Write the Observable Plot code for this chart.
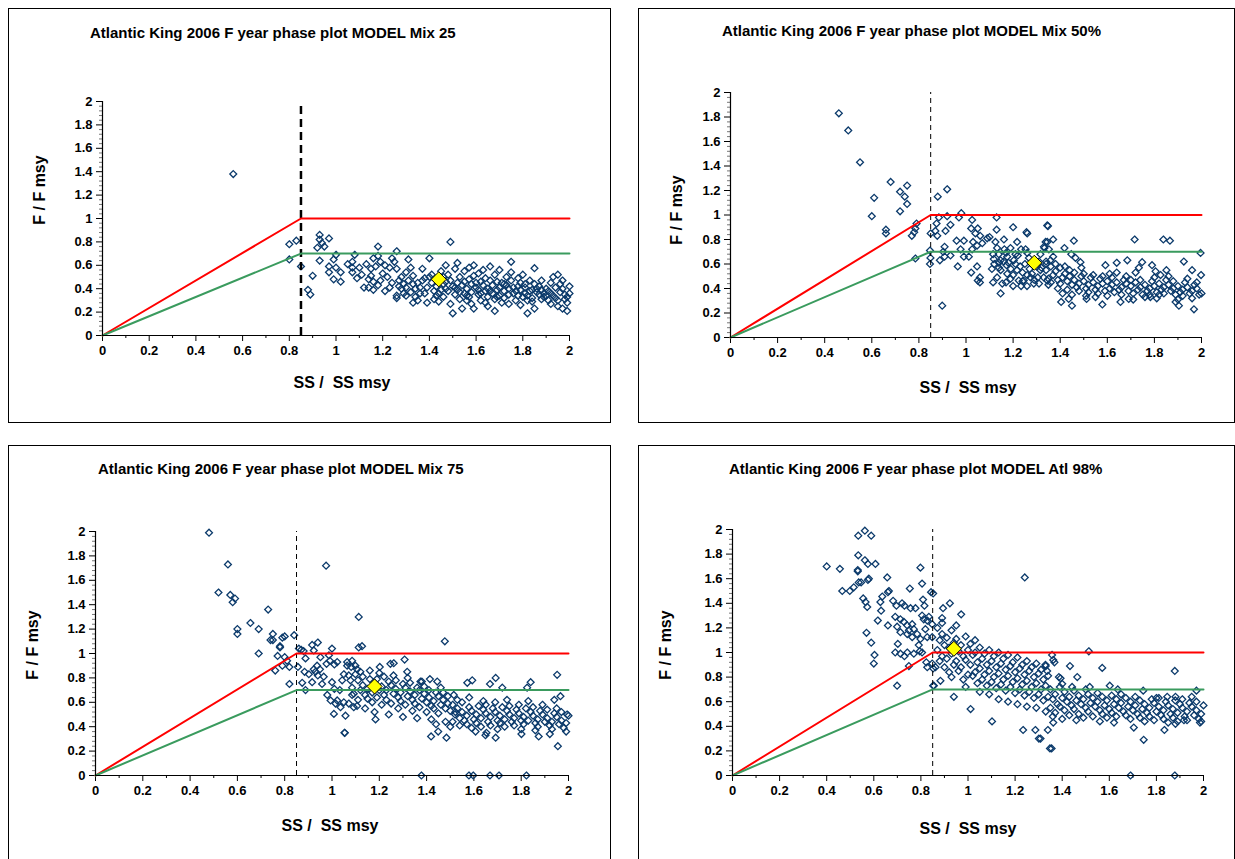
<!DOCTYPE html>
<html><head><meta charset="utf-8">
<script src="https://cdn.jsdelivr.net/npm/d3@7"></script>
<script src="https://cdn.jsdelivr.net/npm/@observablehq/plot@0.6"></script>
<style>
body{margin:0;background:#fff;font-family:"Liberation Sans",Arial,sans-serif;}
#page{position:relative;width:1235px;height:859px;overflow:hidden;background:#fff;}
.box{position:absolute;border:1px solid #000;box-sizing:border-box;background:#fff;}
.box svg{position:absolute;left:0;top:0;}
.title{position:absolute;font-weight:bold;font-size:15px;line-height:18px;white-space:nowrap;color:#000;}
.ylab{position:absolute;font-weight:bold;font-size:16px;white-space:pre;transform:translate(-50%,-50%) rotate(-90deg);color:#000;}
.xlab{position:absolute;font-weight:bold;font-size:16px;white-space:pre;transform:translate(-50%,-50%);color:#000;}
</style></head>
<body><div id="page"></div>
<script>
// ---------- data ----------
const titles = [
  "Atlantic King 2006 F year phase plot MODEL Mix 25",
  "Atlantic King 2006 F year phase plot MODEL Mix 50%",
  "Atlantic King 2006 F year phase plot MODEL Mix 75",
  "Atlantic King 2006 F year phase plot MODEL Atl 98%"
];
const xAxisLabel = "SS /  SS msy";
const yAxisLabel = "F / F msy";
const xTicks = [0,0.2,0.4,0.6,0.8,1,1.2,1.4,1.6,1.8,2];
const yTicks = [0,0.2,0.4,0.6,0.8,1,1.2,1.4,1.6,1.8,2];
const xMinor = [0.1,0.3,0.5,0.7,0.9,1.1,1.3,1.5,1.7,1.9];
const yMinor = [0.04,0.08,0.12,0.16,0.24,0.28,0.32,0.36,0.44,0.48,0.52,0.56,0.64,0.68,0.72,0.76,0.84,0.88,0.92,0.96,1.04,1.08,1.12,1.16,1.24,1.28,1.32,1.36,1.44,1.48,1.52,1.56,1.64,1.68,1.72,1.76,1.84,1.88,1.92,1.96];
const ssMsy = 0.85;
const limitLine = [[0,0],[0.85,1],[2,1]];
const targetLine = [[0,0],[0.85,0.7],[2,0.7]];
const current = [[1.44,0.48],[1.29,0.61],[1.18,0.73],[0.94,1.03]];

const mix25 = [
[0.56,1.38],[0.80,0.78],[0.83,0.81],[0.80,0.65],[0.85,0.59],[0.90,0.51],[0.88,0.39],[0.89,0.35],
[0.93,0.86],[0.93,0.82],[0.97,0.83],[0.94,0.79],[0.92,0.75],[0.95,0.76],[0.93,0.64],[0.99,0.65],[1.00,0.69],[0.97,0.59],[0.97,0.54],[1.00,0.58],[1.02,0.54],[0.99,0.48],[1.02,0.46],
[1.05,0.61],[1.07,0.63],[1.08,0.69],[1.07,0.58],[1.07,0.54],[1.10,0.58],[1.09,0.49],
[1.13,0.61],[1.15,0.57],[1.16,0.66],[1.18,0.68],[1.18,0.76],[1.19,0.63],[1.17,0.59],[1.15,0.51],[1.14,0.48],[1.12,0.41],[1.14,0.41],[1.16,0.46],[1.18,0.43],[1.19,0.47],[1.21,0.60],[1.23,0.58],[1.22,0.50],[1.24,0.66],[1.26,0.72],[1.25,0.63],[1.26,0.57],[1.23,0.41],[1.26,0.34],[1.26,0.32],[1.28,0.40],[1.29,0.44],[1.30,0.54],[1.31,0.65],[1.32,0.58],[1.33,0.51],[1.34,0.33],[1.35,0.45],[1.37,0.57],[1.38,0.49],[1.39,0.41],[1.39,0.28],[1.40,0.66],[1.36,0.41],[1.30,0.41],[1.28,0.50],[1.21,0.38],[1.24,0.45],[1.27,0.47],[1.32,0.37],[1.33,0.44],[1.36,0.36],[1.37,0.47],[1.30,0.34],[1.20,0.53],[1.11,0.52],[1.16,0.39],
[1.31,0.47],[1.34,0.40],[1.35,0.30],[1.38,0.36],[1.40,0.50],[1.33,0.28],[1.29,0.36],[1.27,0.42],
[1.41,0.45],[1.42,0.38],[1.41,0.52],[1.42,0.31],[1.44,0.29],[1.43,0.42],[1.45,0.55],[1.44,0.36],
[1.46,0.50],[1.47,0.40],[1.46,0.33],[1.47,0.60],[1.46,0.44],[1.49,0.80],[1.48,0.38],[1.49,0.47],[1.49,0.27],[1.48,0.52],
[1.50,0.19],[1.51,0.35],[1.50,0.42],[1.51,0.57],[1.52,0.45],[1.53,0.31],[1.52,0.39],[1.53,0.50],[1.52,0.62],
[1.54,0.23],[1.55,0.36],[1.54,0.43],[1.55,0.55],[1.56,0.40],[1.57,0.48],[1.56,0.30],[1.57,0.58],[1.56,0.34],
[1.58,0.44],[1.58,0.37],[1.59,0.51],[1.58,0.27],[1.59,0.23],[1.60,0.41],[1.59,0.60],
[1.61,0.35],[1.62,0.46],[1.61,0.53],[1.62,0.30],[1.61,0.39],[1.63,0.43],[1.64,0.28],[1.63,0.56],[1.64,0.38],
[1.65,0.33],[1.66,0.47],[1.65,0.40],[1.66,0.59],[1.65,0.25],[1.67,0.36],[1.68,0.52],[1.67,0.43],[1.68,0.31],[1.68,0.21],[1.69,0.39],[1.69,0.46],
[1.70,0.34],[1.71,0.45],[1.70,0.56],[1.71,0.28],[1.70,0.41],[1.72,0.38],[1.73,0.50],[1.72,0.32],[1.73,0.43],
[1.74,0.27],[1.74,0.40],[1.75,0.47],[1.74,0.35],[1.75,0.54],[1.75,0.63],[1.76,0.36],
[1.77,0.30],[1.78,0.42],[1.77,0.38],[1.78,0.49],[1.79,0.45],[1.80,0.33],[1.79,0.26],[1.80,0.52],[1.79,0.39],
[1.81,0.36],[1.81,0.41],[1.82,0.30],[1.82,0.19],[1.83,0.47],[1.82,0.34],[1.84,0.39],[1.84,0.32],[1.85,0.44],[1.84,0.29],[1.85,0.575],[1.85,0.23],[1.86,0.37],
[1.87,0.35],[1.87,0.42],[1.88,0.31],[1.88,0.47],[1.89,0.36],[1.89,0.33],[1.90,0.40],
[1.91,0.30],[1.91,0.38],[1.92,0.27],[1.92,0.45],[1.93,0.34],[1.93,0.50],[1.94,0.41],
[1.95,0.52],[1.95,0.30],[1.96,0.37],[1.95,0.25],[1.96,0.44],[1.97,0.23],[1.97,0.47],[1.98,0.35],[1.97,0.40],[1.98,0.31],
[1.99,0.21],[1.99,0.33],[2.00,0.42],[1.99,0.28],[2.00,0.36],
[1.43,0.34],[1.45,0.39],[1.47,0.46],[1.51,0.41],[1.53,0.37],[1.55,0.46],[1.57,0.33],[1.60,0.45],[1.62,0.36],[1.64,0.49],[1.66,0.38],[1.69,0.33],[1.72,0.44],[1.76,0.41],[1.78,0.34],[1.81,0.44],[1.83,0.38],[1.86,0.40],[1.88,0.39],[1.90,0.34],[1.92,0.36],[1.94,0.32]
];

const mix50 = [
[0.46,1.83],[0.50,1.69],[0.55,1.43],[0.68,1.27],[0.75,1.24],[0.72,1.19],[0.74,1.15],[0.75,1.09],[0.61,1.14],[0.72,1.03],[0.60,0.99],[0.66,0.88],[0.66,0.85],[0.79,0.93],[0.785,0.89],[0.78,0.86],[0.77,0.83],[0.785,0.645],
[0.88,1.15],[0.92,1.21],[0.85,0.85],[0.87,0.87],[0.875,0.93],[0.885,0.98],[0.878,0.83],[0.92,0.99],[0.934,0.92],[0.913,0.87],[0.97,0.98],[0.98,1.015],[1.026,0.96],[1.022,0.89],[1.05,0.89],[1.04,0.85],[1.06,0.83],[1.13,0.98],[1.13,0.88],[1.20,0.90],[1.257,0.86],[1.26,0.85],[1.345,0.915],
[0.847,0.71],[0.909,0.74],[0.903,0.70],[0.889,0.63],[0.909,0.66],[0.934,0.67],[0.96,0.79],[0.977,0.72],[0.991,0.79],[0.991,0.66],[1.012,0.66],[1.026,0.72],[1.03,0.78],[1.047,0.75],[1.069,0.77],[1.09,0.81],[1.10,0.82],[1.115,0.68],[1.118,0.64],[1.125,0.78],[1.132,0.73],[1.139,0.68],[1.147,0.63],[1.161,0.80],[1.163,0.72],[1.175,0.66],[1.172,0.59],[1.189,0.73],[1.203,0.63],[1.21,0.68],[1.217,0.78],[1.234,0.72],[1.253,0.72],[1.267,0.65],[1.316,0.68],[1.333,0.73],[1.345,0.78],[1.352,0.72],[1.359,0.63],
[0.965,0.58],[1.022,0.53],[1.047,0.58],[1.059,0.49],[1.059,0.45],[1.05,0.465],[1.115,0.45],[1.132,0.49],[1.147,0.55],[1.154,0.44],[1.147,0.36],[1.175,0.52],[1.189,0.48],[1.20,0.42],[1.217,0.55],[1.224,0.465],[1.234,0.42],[1.245,0.465],[1.259,0.42],[1.274,0.49],[1.288,0.44],[1.305,0.49],[1.316,0.55],[1.33,0.49],[1.345,0.465],[0.899,0.26],[0.849,0.65],[0.847,0.60],
[1.12,0.60],[1.14,0.57],[1.16,0.62],[1.18,0.61],[1.19,0.56],[1.21,0.60],[1.23,0.58],[1.24,0.53],[1.25,0.60],[1.27,0.56],[1.28,0.52],[1.30,0.58],[1.31,0.62],[1.32,0.57],[1.34,0.60],[1.26,0.69],[1.22,0.67],[1.17,0.69],[1.14,0.61],[1.11,0.56],[1.29,0.47],[1.31,0.44],[1.26,0.51],[1.24,0.46],[1.20,0.51],[1.17,0.45],
[1.348,0.91],[1.37,0.80],[1.338,0.78],[1.331,0.74],[1.458,0.79],[1.716,0.80],[1.838,0.80],[1.866,0.79],[1.996,0.69],[1.418,0.73],[1.447,0.68],[1.465,0.65],[1.486,0.615],[1.925,0.62],[1.96,0.55],[1.998,0.51],[1.685,0.63],[1.748,0.615],[1.734,0.57],[1.64,0.61],[1.592,0.59],[1.79,0.59],[1.805,0.54],[1.851,0.55],[1.826,0.51],[1.404,0.29],[1.436,0.315],[1.45,0.26],[1.512,0.315],[1.579,0.27],[1.656,0.29],[1.691,0.315],[1.783,0.33],[1.89,0.29],[1.904,0.26],[1.968,0.23],[2.0,0.36],
[1.34,0.55],[1.35,0.48],[1.34,0.62],[1.35,0.43],[1.36,0.58],[1.37,0.51],[1.36,0.45],[1.37,0.66],[1.38,0.54],[1.39,0.47],[1.38,0.60],[1.39,0.40],
[1.40,0.57],[1.41,0.49],[1.40,0.44],[1.41,0.36],[1.42,0.52],[1.43,0.46],[1.42,0.58],[1.43,0.39],[1.44,0.50],[1.45,0.43],[1.44,0.55],[1.45,0.35],
[1.46,0.47],[1.47,0.41],[1.46,0.53],[1.48,0.44],[1.49,0.50],[1.48,0.38],[1.49,0.57],[1.50,0.46],[1.51,0.40],[1.50,0.52],[1.51,0.34],
[1.52,0.43],[1.53,0.49],[1.52,0.37],[1.54,0.45],[1.55,0.39],[1.54,0.51],[1.55,0.33],[1.56,0.42],[1.57,0.48],[1.56,0.36],
[1.58,0.44],[1.59,0.38],[1.58,0.50],[1.60,0.46],[1.61,0.40],[1.60,0.34],[1.61,0.52],[1.62,0.43],[1.63,0.37],[1.62,0.49],
[1.64,0.45],[1.65,0.39],[1.64,0.53],[1.66,0.41],[1.67,0.47],[1.66,0.35],[1.68,0.44],[1.69,0.38],[1.68,0.50],
[1.70,0.42],[1.71,0.36],[1.70,0.47],[1.71,0.31],[1.72,0.45],[1.73,0.39],[1.72,0.53],[1.74,0.41],[1.75,0.35],[1.74,0.47],
[1.76,0.43],[1.77,0.38],[1.76,0.33],[1.78,0.40],[1.79,0.46],[1.78,0.35],[1.80,0.42],[1.81,0.37],[1.80,0.49],[1.81,0.32],
[1.82,0.44],[1.83,0.39],[1.82,0.35],[1.84,0.41],[1.85,0.47],[1.84,0.36],[1.86,0.43],[1.87,0.38],[1.86,0.50],
[1.88,0.40],[1.89,0.35],[1.88,0.46],[1.90,0.42],[1.91,0.37],[1.90,0.31],[1.92,0.39],[1.93,0.45],[1.92,0.34],
[1.94,0.41],[1.95,0.36],[1.94,0.48],[1.96,0.38],[1.97,0.43],[1.96,0.32],[1.98,0.40],[1.99,0.35],[1.98,0.45]
];

const mix75 = [
[0.48,1.99],[0.56,1.73],[0.52,1.50],[0.57,1.48],[0.59,1.45],[0.58,1.42],[0.60,1.20],[0.60,1.16],[0.655,1.25],[0.69,1.20],[0.73,1.36],[0.75,1.16],[0.74,1.11],[0.75,1.11],[0.78,1.06],[0.78,1.05],[0.80,1.14],[0.79,1.13],[0.84,1.15],[0.69,1.00],[0.77,0.98],[0.79,0.90],[0.81,0.94],[0.82,0.89],[0.80,0.97],[0.76,0.86],[0.82,0.75],
[0.86,1.04],[0.87,1.03],[0.88,1.02],[0.856,0.89],[0.888,0.96],[0.916,1.07],[0.94,1.09],[0.923,1.025],[0.951,0.97],[0.977,0.915],[1.0,1.04],[0.987,0.985],[1.022,0.93],[0.991,0.94],[1.01,0.91],[0.874,0.76],[0.888,0.70],[0.884,0.85],[0.902,0.83],[0.916,0.765],[0.923,0.87],[0.93,0.85],[0.94,0.82],[0.949,0.87],[0.937,0.90],[0.958,0.75],[0.965,0.81],[0.98,0.66],[1.0,0.765],[0.994,0.615],[1.01,0.71],[1.015,0.59],[1.022,0.615],[1.008,0.505],[1.036,0.56],[1.05,0.60],[1.057,0.49],[1.053,0.35],[1.033,0.70],[1.043,0.78],[1.05,0.83],[1.064,0.90],[1.071,0.82],[1.078,0.78],[1.085,0.72],[1.092,0.67],[1.099,0.83],[1.106,0.87],[1.081,0.89],[1.106,0.57],[1.071,0.59],[1.092,0.56],[1.085,0.66],[0.975,1.72],
[1.113,1.30],[1.113,1.05],[1.127,1.06],[1.477,1.10],[1.307,0.95],[1.054,0.35],[1.184,0.46],[1.419,0.32],[1.449,0.36],[1.484,0.31],[1.378,0.0],[1.064,0.93],[1.085,0.94],[1.099,0.90],[1.202,0.89],[1.247,0.915],[1.261,0.92],[1.318,0.85],[1.374,0.77],[1.414,0.79],[1.445,0.77],
[1.11,0.78],[1.12,0.70],[1.11,0.62],[1.12,0.85],[1.13,0.74],[1.14,0.66],[1.13,0.81],[1.14,0.55],[1.15,0.71],[1.16,0.79],[1.15,0.63],[1.16,0.86],[1.17,0.68],[1.18,0.76],[1.17,0.60],[1.18,0.52],
[1.19,0.79],[1.20,0.70],[1.19,0.64],[1.20,0.84],[1.21,0.73],[1.22,0.66],[1.21,0.58],[1.22,0.81],[1.23,0.70],[1.24,0.77],[1.23,0.62],[1.24,0.50],
[1.25,0.74],[1.26,0.67],[1.25,0.59],[1.26,0.82],[1.27,0.71],[1.28,0.64],[1.27,0.78],[1.28,0.55],[1.29,0.68],[1.30,0.75],[1.29,0.61],[1.30,0.48],
[1.31,0.72],[1.32,0.65],[1.31,0.58],[1.32,0.80],[1.33,0.69],[1.34,0.62],[1.33,0.76],[1.34,0.53],[1.35,0.66],[1.36,0.72],[1.35,0.59],[1.36,0.47],
[1.37,0.70],[1.38,0.63],[1.37,0.56],[1.38,0.77],[1.39,0.67],[1.40,0.60],[1.39,0.73],[1.40,0.52],[1.41,0.64],[1.42,0.57],[1.41,0.70],[1.42,0.46],
[1.43,0.61],[1.44,0.68],[1.43,0.55],[1.44,0.42],[1.45,0.65],[1.46,0.58],[1.45,0.51],[1.46,0.72],[1.47,0.62],[1.48,0.55],[1.47,0.68],[1.48,0.44],[1.49,0.59],[1.50,0.53],[1.49,0.65],[1.50,0.40],
[1.952,0.825],[1.572,0.76],[1.593,0.78],[1.692,0.80],[1.668,0.75],[1.72,0.72],[1.84,0.765],[1.825,0.72],[1.966,0.65],[1.994,0.50],[1.955,0.24],[1.579,0],[1.597,0],[1.668,0],[1.706,0],[1.822,0],[1.515,0.66],[1.522,0.52],[1.607,0.36],[1.649,0.33],[1.653,0.35],[1.692,0.31],[1.801,0.34],[1.874,0.32],[1.921,0.34],
[1.51,0.58],[1.52,0.50],[1.51,0.44],[1.53,0.55],[1.54,0.47],[1.53,0.62],[1.54,0.41],[1.55,0.52],[1.56,0.45],[1.55,0.60],
[1.57,0.49],[1.58,0.56],[1.57,0.42],[1.58,0.64],[1.59,0.53],[1.60,0.46],[1.59,0.39],[1.61,0.50],[1.62,0.57],[1.61,0.43],
[1.63,0.47],[1.64,0.54],[1.63,0.40],[1.64,0.61],[1.65,0.51],[1.66,0.44],[1.65,0.58],[1.67,0.48],[1.68,0.55],[1.67,0.41],
[1.69,0.52],[1.70,0.45],[1.69,0.60],[1.70,0.38],[1.71,0.49],[1.72,0.56],[1.71,0.43],[1.73,0.46],[1.74,0.53],[1.73,0.40],[1.74,0.62],
[1.75,0.50],[1.76,0.44],[1.75,0.57],[1.77,0.47],[1.78,0.54],[1.77,0.41],[1.79,0.51],[1.80,0.45],[1.79,0.58],[1.80,0.38],
[1.81,0.48],[1.82,0.55],[1.81,0.42],[1.83,0.45],[1.84,0.52],[1.83,0.61],[1.85,0.49],[1.86,0.43],[1.85,0.56],[1.86,0.37],
[1.87,0.46],[1.88,0.53],[1.87,0.40],[1.89,0.50],[1.90,0.44],[1.89,0.58],[1.91,0.47],[1.92,0.41],[1.91,0.54],
[1.93,0.44],[1.94,0.51],[1.93,0.38],[1.94,0.62],[1.95,0.48],[1.96,0.42],[1.95,0.55],[1.97,0.45],[1.98,0.39],[1.97,0.52],[1.99,0.43],[2.00,0.49],[1.99,0.36]
];

const atl98 = [
[0.534,1.95],[0.562,1.99],[0.589,1.95],[0.40,1.70],[0.456,1.68],[0.534,1.79],[0.562,1.75],[0.575,1.72],[0.607,1.72],[0.532,1.67],[0.532,1.66],[0.546,1.57],[0.536,1.57],[0.575,1.59],[0.579,1.60],[0.466,1.50],[0.498,1.50],[0.515,1.53],[0.555,1.44],[0.565,1.41],[0.572,1.37],[0.628,1.41],[0.636,1.455],[0.657,1.61],[0.664,1.50],[0.66,1.49],[0.631,1.34],[0.617,1.26],[0.66,1.22],[0.682,1.42],[0.696,1.38],[0.72,1.40],[0.753,1.52],[0.73,1.38],[0.756,1.36],[0.777,1.36],[0.798,1.69],[0.805,1.56],[0.809,1.43],[0.815,1.38],[0.843,1.49],[0.852,1.48],
[0.691,1.29],[0.713,1.27],[0.699,1.21],[0.727,1.25],[0.742,1.22],[0.749,1.18],[0.763,1.23],[0.77,1.19],[0.784,1.15],[0.805,1.30],[0.812,1.27],[0.819,1.19],[0.827,1.125],[0.798,1.11],[0.763,1.125],[0.742,1.15],[0.713,1.165],[0.827,1.26],[0.834,1.29],[0.848,1.23],[0.848,1.125],
[0.569,1.16],[0.589,1.08],[0.603,0.98],[0.60,0.91],[0.691,1.00],[0.702,1.07],[0.713,0.99],[0.73,0.97],[0.742,1.00],[0.749,0.89],[0.77,0.99],[0.791,1.06],[0.795,1.01],[0.805,1.00],[0.699,0.73],[0.823,0.92],[0.827,0.88],[0.848,0.91],[0.852,0.87],[0.862,0.88],[0.855,0.73],
[1.241,1.61],[0.923,1.40],[0.894,1.36],[0.971,1.31],[0.89,1.28],[0.94,0.64],[1.011,0.54],[0.852,0.73],[0.883,0.77],[1.102,0.44],[1.234,0.37],[1.286,0.37],[1.301,0.30],[1.348,0.22],
[0.87,1.20],[0.88,1.10],[0.87,1.02],[0.88,0.93],[0.89,1.15],[0.90,1.06],[0.89,0.97],[0.90,0.88],[0.89,1.24],
[0.91,1.12],[0.92,1.04],[0.91,0.95],[0.92,0.84],[0.93,1.18],[0.94,1.08],[0.93,0.99],[0.94,0.90],[0.93,0.80],
[0.95,1.11],[0.96,1.01],[0.95,0.93],[0.96,0.85],[0.95,1.22],[0.97,1.06],[0.98,0.97],[0.97,0.88],[0.98,0.78],
[0.99,1.13],[1.00,1.02],[0.99,0.94],[1.00,0.82],[0.99,0.72],[1.01,1.07],[1.02,0.98],[1.01,0.90],[1.02,0.81],
[1.03,1.00],[1.04,0.92],[1.03,0.84],[1.04,0.75],[1.03,1.10],[1.05,1.04],[1.06,0.95],[1.05,0.87],[1.06,0.78],[1.05,0.68],
[1.07,0.99],[1.08,0.90],[1.07,0.82],[1.08,0.73],[1.09,1.02],[1.10,0.93],[1.09,0.85],[1.10,0.76],[1.09,0.66],
[1.11,0.97],[1.12,0.88],[1.11,0.80],[1.12,0.71],[1.13,1.00],[1.14,0.91],[1.13,0.83],[1.14,0.74],[1.13,0.62],
[1.15,0.95],[1.16,0.86],[1.15,0.78],[1.16,0.69],[1.17,0.98],[1.18,0.89],[1.17,0.81],[1.18,0.72],[1.17,0.60],
[1.19,0.92],[1.20,0.84],[1.19,0.76],[1.20,0.67],[1.21,0.96],[1.22,0.87],[1.21,0.79],[1.22,0.70],[1.21,0.58],
[1.23,0.90],[1.24,0.82],[1.23,0.74],[1.24,0.65],[1.25,0.93],[1.26,0.85],[1.25,0.77],[1.26,0.68],[1.25,0.56],
[1.27,0.88],[1.28,0.80],[1.27,0.72],[1.28,0.63],[1.29,0.91],[1.30,0.83],[1.29,0.75],[1.30,0.66],[1.29,0.55],
[1.31,0.86],[1.32,0.78],[1.31,0.70],[1.32,0.61],[1.33,0.89],[1.34,0.81],[1.33,0.73],[1.34,0.64],[1.33,0.52],
[1.513,1.01],[1.357,0.98],[1.362,0.94],[1.367,0.92],[1.433,0.89],[1.57,0.875],[1.878,0.85],[1.464,0.80],[1.386,0.80],[1.393,0.79],[1.40,0.745],[1.329,0.90],[1.336,0.85],[1.442,0.72],[1.517,0.72],[1.602,0.73],[1.636,0.70],[1.744,0.69],[1.80,0.63],[1.846,0.64],[1.881,0.64],[1.97,0.69],[1.985,0.43],[1.917,0.45],[1.881,0.42],[1.834,0.37],[1.746,0.29],[1.704,0.39],[1.355,0.22],[1.339,0.37],[1.362,0.43],[1.308,0.30],[1.69,0],[1.878,0],
[1.35,0.70],[1.36,0.62],[1.35,0.55],[1.36,0.48],[1.37,0.66],[1.38,0.58],[1.37,0.51],[1.39,0.72],[1.40,0.63],[1.39,0.56],[1.40,0.46],
[1.41,0.68],[1.42,0.60],[1.41,0.53],[1.43,0.64],[1.44,0.57],[1.43,0.49],[1.45,0.69],[1.46,0.61],[1.45,0.54],[1.46,0.45],
[1.47,0.65],[1.48,0.58],[1.47,0.50],[1.49,0.62],[1.50,0.55],[1.49,0.47],[1.50,0.70],[1.51,0.66],[1.52,0.59],[1.51,0.52],
[1.53,0.63],[1.54,0.56],[1.53,0.48],[1.55,0.60],[1.56,0.53],[1.55,0.67],[1.56,0.44],[1.57,0.64],[1.58,0.57],[1.57,0.50],
[1.59,0.61],[1.60,0.54],[1.59,0.47],[1.61,0.65],[1.62,0.58],[1.61,0.51],[1.62,0.43],[1.63,0.62],[1.64,0.55],[1.63,0.48],
[1.65,0.59],[1.66,0.52],[1.65,0.66],[1.67,0.63],[1.68,0.56],[1.67,0.49],[1.69,0.60],[1.70,0.53],[1.69,0.46],
[1.71,0.57],[1.72,0.50],[1.71,0.64],[1.73,0.61],[1.74,0.54],[1.73,0.47],[1.75,0.58],[1.76,0.51],[1.75,0.44],
[1.77,0.55],[1.78,0.62],[1.77,0.48],[1.79,0.59],[1.80,0.52],[1.79,0.45],[1.81,0.56],[1.82,0.49],[1.81,0.63],
[1.83,0.53],[1.84,0.60],[1.83,0.46],[1.85,0.57],[1.86,0.50],[1.85,0.43],[1.87,0.54],[1.88,0.61],[1.87,0.47],
[1.89,0.51],[1.90,0.58],[1.89,0.44],[1.91,0.55],[1.92,0.48],[1.91,0.62],[1.93,0.52],[1.94,0.59],[1.93,0.45],
[1.95,0.56],[1.96,0.49],[1.95,0.64],[1.97,0.53],[1.98,0.46],[1.97,0.60],[1.99,0.50],[2.00,0.57],[1.99,0.44]
];

// ---------- layout ----------
const series = [mix25, mix50, mix75, atl98];
const layout = [
  {box:[8,8,603,415],   m:[92,41,87,93], dashTop:2, thick:true,  title:[90,24], ylab:[40,190], xlab:[342,383]},
  {box:[638,8,597,415], m:[83,33,85,91], dashTop:2, thick:false, title:[722,22], ylab:[677,210], xlab:[968,388]},
  {box:[8,445,603,430], m:[85,42,84,86], dashTop:2, thick:false, title:[98,460], ylab:[33,645], xlab:[330,826]},
  {box:[638,445,597,430], m:[83,31,84,93], dashTop:2, thick:false, title:[729,460], ylab:[666,645], xlab:[968,829]}
];
const page = document.getElementById("page");
const fmt = d => String(d);

layout.forEach((L, i) => {
  const [bx, by, bw, bh] = L.box;
  const box = document.createElement("div");
  box.className = "box";
  Object.assign(box.style, {left: bx + "px", top: by + "px", width: bw + "px", height: bh + "px"});
  page.appendChild(box);
  const W = bw - 2, H = 413;
  const [mt, mr, mb, ml] = L.m;
  const chart = Plot.plot({
    width: W, height: H,
    marginTop: mt, marginRight: mr, marginBottom: mb, marginLeft: ml,
    x: {domain: [0, 2]},
    y: {domain: [0, 2]},
    style: {fontFamily: '"Liberation Sans", Arial, sans-serif', fontSize: "13px", fontWeight: "bold", color: "#000", background: "transparent", overflow: "visible"},
    marks: [
      Plot.axisX({ticks: xMinor, tickSize: 3, tickFormat: () => "", label: null, stroke: "#000"}),
      Plot.axisX({ticks: xTicks, tickSize: 6, tickPadding: 4, tickFormat: fmt, label: null, stroke: "#000", fill: "#000"}),
      Plot.axisY({ticks: yMinor, tickSize: 3, tickFormat: () => "", label: null, stroke: "#777"}),
      Plot.axisY({ticks: yTicks, tickSize: 6, tickPadding: 4, tickFormat: fmt, label: null, stroke: "#000", fill: "#000"}),
      Plot.dot(series[i], {x: d => d[0], y: d => d[1], symbol: "diamond2", r: 3.1, fill: "none", stroke: "#0b3a6b", strokeWidth: 1.3}),
      Plot.ruleX([ssMsy], {y1: 0, y2: L.dashTop, stroke: "#000", strokeWidth: L.thick ? 2.5 : 1, strokeDasharray: L.thick ? "8,5" : "5,4"}),
      Plot.line(limitLine, {x: d => d[0], y: d => d[1], stroke: "#ff0000", strokeWidth: 2}),
      Plot.line(targetLine, {x: d => d[0], y: d => d[1], stroke: "#3a9b5e", strokeWidth: 2}),
      Plot.ruleY([0], {stroke: "#000", strokeWidth: 1.2}),
      Plot.ruleX([0], {stroke: "#000", strokeWidth: 1.2}),
      Plot.dot([current[i]], {x: d => d[0], y: d => d[1], symbol: "diamond2", r: 6.8, fill: "#ffff00", stroke: "#000", strokeWidth: 1})
    ]
  });
  box.appendChild(chart);

  const t = document.createElement("div");
  t.className = "title"; t.textContent = titles[i];
  t.style.left = L.title[0] + "px"; t.style.top = L.title[1] + "px";
  page.appendChild(t);
  const yl = document.createElement("div");
  yl.className = "ylab"; yl.textContent = yAxisLabel;
  yl.style.left = L.ylab[0] + "px"; yl.style.top = L.ylab[1] + "px";
  page.appendChild(yl);
  const xl = document.createElement("div");
  xl.className = "xlab"; xl.textContent = xAxisLabel;
  xl.style.left = L.xlab[0] + "px"; xl.style.top = L.xlab[1] + "px";
  page.appendChild(xl);
});
</script></body></html>
